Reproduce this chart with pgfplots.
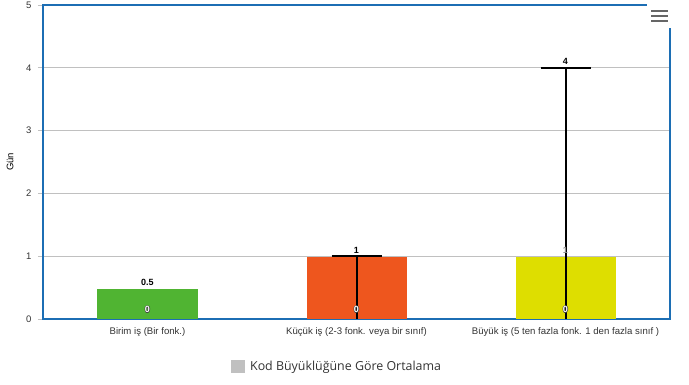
\documentclass[border=0pt]{standalone}
\usepackage{fontspec}
\setmainfont{Liberation Sans}
\newfontfamily\legfont{Open Sans}
\usepackage{pgfplots}
\pgfplotsset{compat=1.18}
\definecolor{cgreen}{RGB}{80,180,50}
\definecolor{corange}{RGB}{238,86,30}
\definecolor{cyellow}{RGB}{222,222,0}
\definecolor{cblue}{RGB}{28,110,180}
\definecolor{cgrid}{RGB}{192,192,192}
\definecolor{ctext}{RGB}{51,51,51}
\newcommand\outl[1]{\leavevmode\rlap{\kern-0.6pt\textcolor{black!75}{#1}}\rlap{\kern0.6pt\textcolor{black!75}{#1}}\rlap{\raisebox{0.6pt}{\textcolor{black!75}{#1}}}\rlap{\raisebox{-0.6pt}{\textcolor{black!75}{#1}}}\textcolor{white}{#1}}
\begin{document}
\begin{tikzpicture}[x=1pt,y=1pt]
\useasboundingbox (0,0) rectangle (689,385);
\begin{axis}[
  at={(43pt,66pt)}, anchor=south west,
  scale only axis, width=627pt, height=314pt,
  xmin=-0.5, xmax=2.5, ymin=0, ymax=5,
  ytick={0,1,2,3,4,5},
  ymajorgrids, grid style={draw=cgrid, line width=0.9pt},
  xtick={0,1,2},
  xticklabels={Birim iş (Bir fonk.), Küçük iş (2-3 fonk. veya bir sınıf), Büyük iş (5 ten fazla fonk. 1 den fazla sınıf )},
  major x tick style={draw=none},
  extra x ticks={-0.5,0.5,1.5,2.5},
  extra x tick labels={},
  extra x tick style={grid=none, major tick length=10pt, tick style={draw=cgrid, line width=0.9pt}},
  tick align=outside,
  major y tick style={draw=cgrid, line width=0.9pt},
  major tick length=5pt,
  xtick pos=bottom, ytick pos=left,
  axis line style={draw=cblue, line width=2pt},
  /pgf/number format/assume math mode=true,
  yticklabel style={font=\fontsize{9.5}{11}\selectfont, text=ctext, xshift=-3pt},
  xticklabel style={font=\fontsize{9.6}{11}\selectfont, text=ctext},
  ylabel={Gün},
  ylabel style={at={(rel axis cs:-0.0526,0.5)}, anchor=center, rotate=0, font=\fontsize{9.5}{11}\selectfont, text=black},
  legend style={at={(0.469,-0.152)}, anchor=center, draw=none, fill=none,
    font=\legfont\fontsize{12.4}{14}\selectfont, text=ctext},
  legend image code/.code={\fill[#1] (0pt,-6.5pt) rectangle (14pt,6.5pt); \path (17pt,0pt);},
  clip=false,
]
\addlegendimage{fill=cgrid, draw=none}
\addlegendentry{Kod Büyüklüğüne Göre Ortalama}
\addplot[ybar, bar shift=0pt, bar width=100pt, fill=cgreen, draw=none,
  point meta=explicit symbolic, nodes near coords,
  nodes near coords style={font=\bfseries\fontsize{9}{10}\selectfont, text=black}]
  coordinates {(0,0.48) [0.5]};
\addplot[ybar, bar shift=0pt, bar width=100pt, fill=corange, draw=none,
  point meta=explicit symbolic, nodes near coords,
  nodes near coords style={font=\bfseries\fontsize{9}{10}\selectfont, text=black}]
  coordinates {(1,0.98) [1]};
\addplot[ybar, bar shift=0pt, bar width=100pt, fill=cyellow, draw=none,
  point meta=explicit symbolic, nodes near coords,
  nodes near coords style={font=\bfseries\fontsize{9}{10}\selectfont, text=black!45}]
  coordinates {(2,0.98) [1]};
\addplot[draw=none, mark=none, forget plot,
  error bars/.cd, y dir=plus, y explicit,
  error bar style={line width=2pt, black},
  error mark options={rotate=90, mark size=25pt, line width=2pt, black}]
  coordinates {(1,0) +- (0,1) (2,0) +- (0,4)};
\addplot[draw=none, mark=none, forget plot,
  point meta=explicit symbolic, nodes near coords,
  nodes near coords style={font=\bfseries\fontsize{9}{10}\selectfont, text=black, anchor=south}]
  coordinates {(2,4) [4]};
\addplot[draw=none, mark=none, forget plot,
  point meta=explicit symbolic, nodes near coords={\outl{\pgfplotspointmeta}},
  nodes near coords style={font=\bfseries\fontsize{9}{10}\selectfont, anchor=south, yshift=2pt}]
  coordinates {(0,0) [0] (1,0) [0] (2,0) [0]};
\end{axis}
\fill[white] (647,357) rectangle (673,381);
\foreach \yy in {374,369,364}{
  \draw[line width=2.6pt, black!60] (651,\yy) -- (668,\yy);
}
\end{tikzpicture}
\end{document}
